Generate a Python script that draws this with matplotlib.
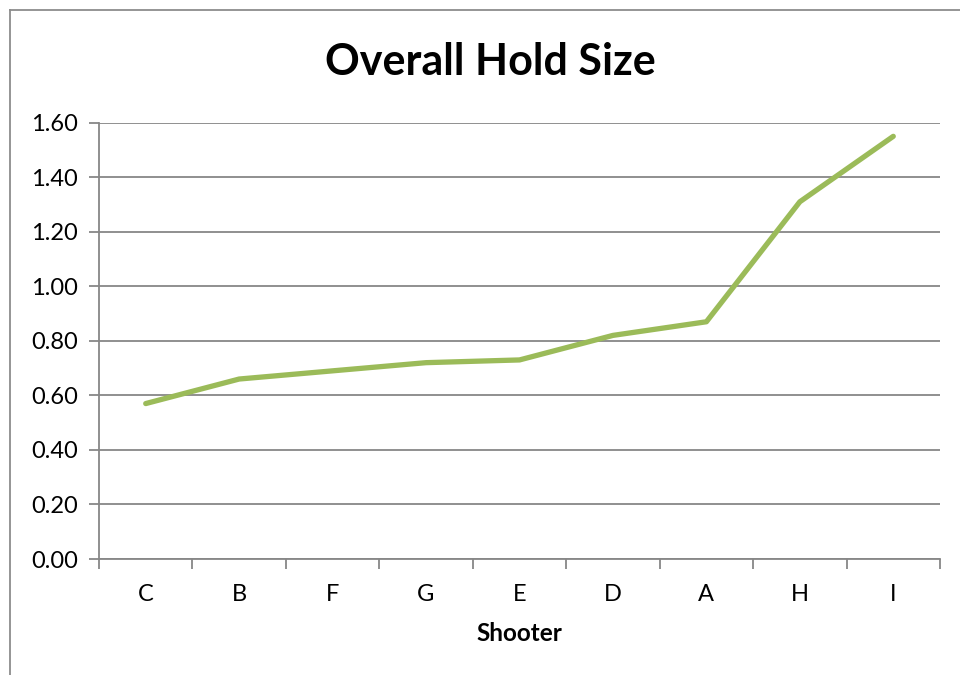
import matplotlib
matplotlib.use('Agg')
import matplotlib.pyplot as plt
from matplotlib.lines import Line2D

# Hold size per shooter, sorted from smallest to largest
shooters = ['C', 'B', 'F', 'G', 'E', 'D', 'A', 'H', 'I']
hold_size = [0.57, 0.66, 0.69, 0.72, 0.73, 0.82, 0.87, 1.31, 1.55]
y_ticks = [0.0, 0.2, 0.4, 0.6, 0.8, 1.0, 1.2, 1.4, 1.6]

plt.rcParams['font.family'] = ['Lato', 'DejaVu Sans']
grid_color = '#878787'

fig = plt.figure(figsize=(9.6, 6.75), dpi=100)
ax = fig.add_axes([99 / 960, 1 - 559 / 675, (940 - 99) / 960, (559 - 122.7) / 675])

x = list(range(len(shooters)))
ax.plot(x, hold_size, color='#9BBB59', linewidth=3.8, solid_capstyle='round',
        solid_joinstyle='round', zorder=3)

ax.set_xlim(-0.5, len(shooters) - 0.5)
ax.set_ylim(0, 1.6)
ax.set_yticks(y_ticks)
ax.set_yticklabels([f'{v:.2f}' for v in y_ticks], fontsize=17)
ax.yaxis.grid(True, color=grid_color, linewidth=1.3)
ax.set_axisbelow(True)

# Category ticks sit between the labels
ax.set_xticks([i - 0.5 for i in range(len(shooters) + 1)])
ax.set_xticklabels([])
ax.set_xticks(x, minor=True)
ax.set_xticklabels(shooters, minor=True, fontsize=17)
ax.tick_params(axis='x', which='major', length=7, color=grid_color, width=1.3)
ax.tick_params(axis='x', which='minor', length=0, pad=18)
ax.tick_params(axis='y', length=7, color=grid_color, width=1.3, pad=8)

for side in ['top', 'right']:
    ax.spines[side].set_visible(False)
for side in ['left', 'bottom']:
    ax.spines[side].set_color(grid_color)
    ax.spines[side].set_linewidth(1.3)

ax.set_xlabel('Shooter', fontsize=17.5, fontweight='bold', labelpad=12)
fig.text(490 / 960, 1 - 62 / 675, 'Overall Hold Size', fontsize=31,
         fontweight='bold', ha='center', va='center')

# Chart frame
fig.add_artist(Line2D([10 / 960, 1], [1 - 10 / 675, 1 - 10 / 675],
                      transform=fig.transFigure, color='#8c8c8c', linewidth=1.3))
fig.add_artist(Line2D([10 / 960, 10 / 960], [0, 1 - 10 / 675],
                      transform=fig.transFigure, color='#8c8c8c', linewidth=1.3))

fig.savefig('out.png', dpi=100)
